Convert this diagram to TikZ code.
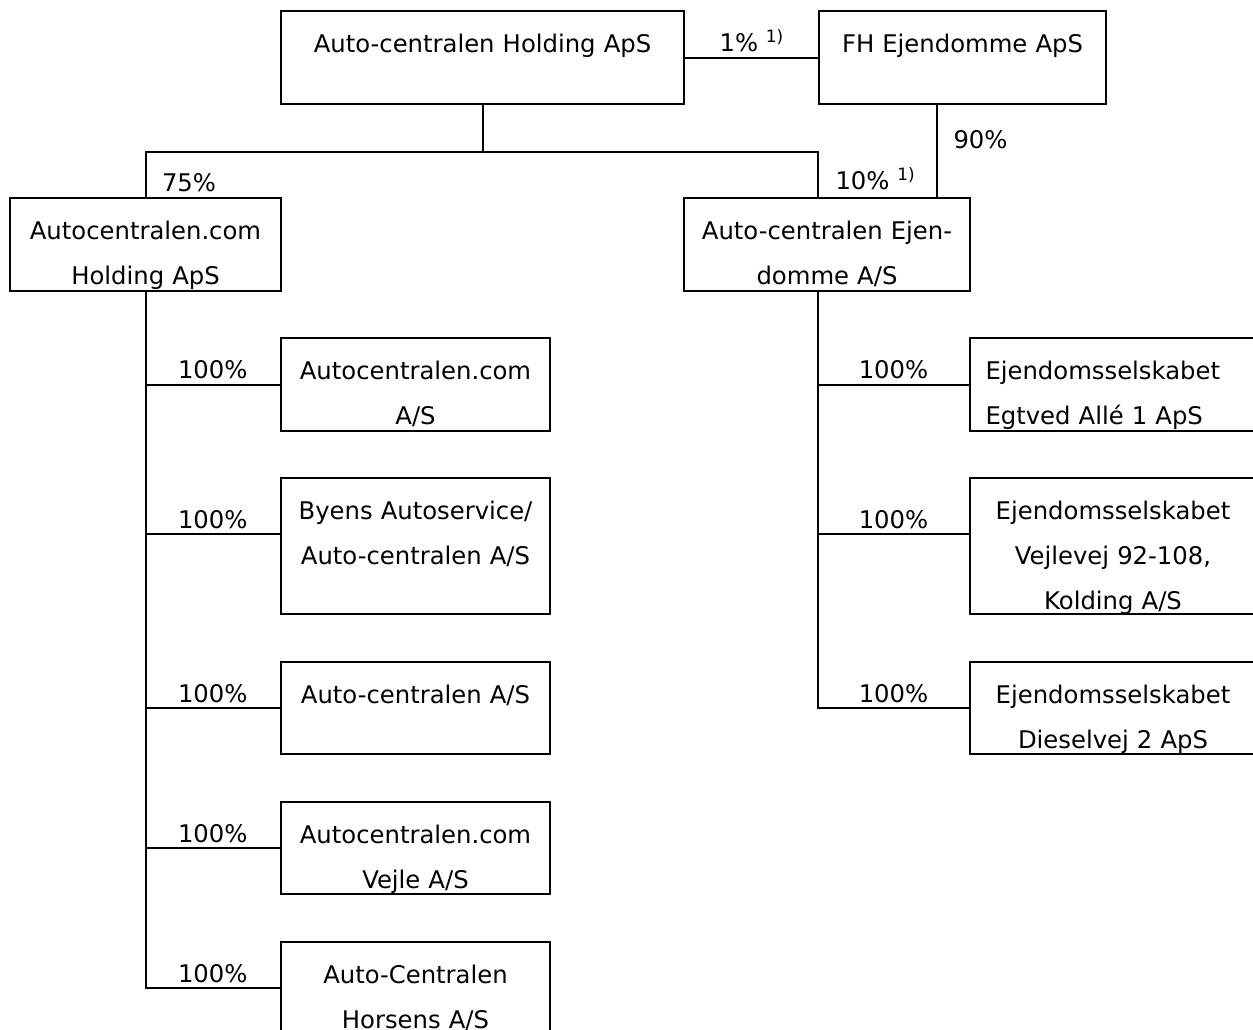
\documentclass[tikz,border=0pt]{standalone}
\usepackage{fontspec}
\setmainfont{DejaVu Sans}
\newcommand{\fnmark}{\raisebox{9pt}{\fontsize{17}{17}\selectfont 1)}}
\tikzset{
  box/.style={draw, line width=2pt, inner sep=0pt, anchor=north west, align=center,
    text height=41.5pt, text depth=51.5pt},
  tall/.style={text depth=94.5pt},
  low/.style={text depth=50.5pt},
  link/.style={line width=2pt, line cap=rect},
  pct/.style={anchor=base, yshift=6pt}
}

\begin{document}
\begin{tikzpicture}[x=1pt, y=-1pt, font=\fontsize{24.3}{45}\selectfont]
  \useasboundingbox (0,0) rectangle (1253,1029);

  % owners
  \node[box, text width=403pt] (hold) at (280,10) {Auto-centralen Holding ApS};
  \node[box, text width=287pt] (fh) at (818,10) {FH Ejendomme ApS};

  % second level
  \node[box, text width=271pt] (acom) at (9,197) {Autocentralen.com\\Holding ApS};
  \node[box, text width=286pt] (ejd) at (683,197) {Auto-centralen Ejen-\\domme A/S};

  % left column
  \node[box, text width=269pt] (c1) at (280,337) {Autocentralen.com\\A/S};
  \node[box, tall, text width=269pt] (c2) at (280,477) {Byens Autoservice/\\Auto-centralen A/S};
  \node[box, low, text width=269pt] (c3) at (280,661) {Auto-centralen A/S};
  \node[box, low, text width=269pt] (c4) at (280,801) {Autocentralen.com\\Vejle A/S};
  \node[box, low, text width=269pt] (c5) at (280,941) {Auto-Centralen\\Horsens A/S};

  % right column
  \node[box, align=left, inner xsep=15.5pt, text width=255pt] (e1) at (969,337) {Ejendomsselskabet\\Egtved Allé 1 ApS};
  \node[box, tall, text width=286pt] (e2) at (969,477) {Ejendomsselskabet\\Vejlevej 92-108,\\Kolding A/S};
  \node[box, low, text width=286pt] (e3) at (969,661) {Ejendomsselskabet\\Dieselvej 2 ApS};

  % top links
  \draw[link] (hold) -- node[pct] (p1) {1\% \fnmark} (fh);
  \draw[link] (hold.south) -- ++(0,47) coordinate (bus);
  \coordinate (rjoin) at (ejd.north -| fh.west);
  \draw[link] (acom.north) |- (bus) -| (rjoin);
  \coordinate (drop) at ([xshift=119pt]fh.south west);
  \draw[link] (drop) -- (drop |- ejd.north);
  \node[anchor=base west] (p75) at ([xshift=13pt, yshift=6pt]acom.north) {75\%};
  \node[anchor=base west] (p10) at ([xshift=14pt, yshift=8pt]rjoin) {10\% \fnmark};
  \node[anchor=base west] (p90) at ([xshift=13pt, yshift=-43pt]drop) {90\%};

  % left trunk
  \draw[link] (acom.south) -- (acom.south |- c5.west);
  \coordinate (c2in) at ([yshift=12pt]c2.west);
  \foreach \k/\n in {c1.west/l1, c2in/l2, c3.west/l3, c4.west/l4, c5.west/l5}
    \draw[link] (acom.south |- \k) -- node[pct] (\n) {100\%} (\k);

  % right trunk
  \coordinate (rtop) at (ejd.south -| fh.west);
  \draw[link] (rtop) -- (rtop |- e3.west);
  \coordinate (e2in) at ([yshift=12pt]e2.west);
  \foreach \k/\n in {e1.west/r1, e2in/r2, e3.west/r3}
    \draw[link] (rtop |- \k) -- node[pct] (\n) {100\%} (\k);
\end{tikzpicture}
\end{document}
